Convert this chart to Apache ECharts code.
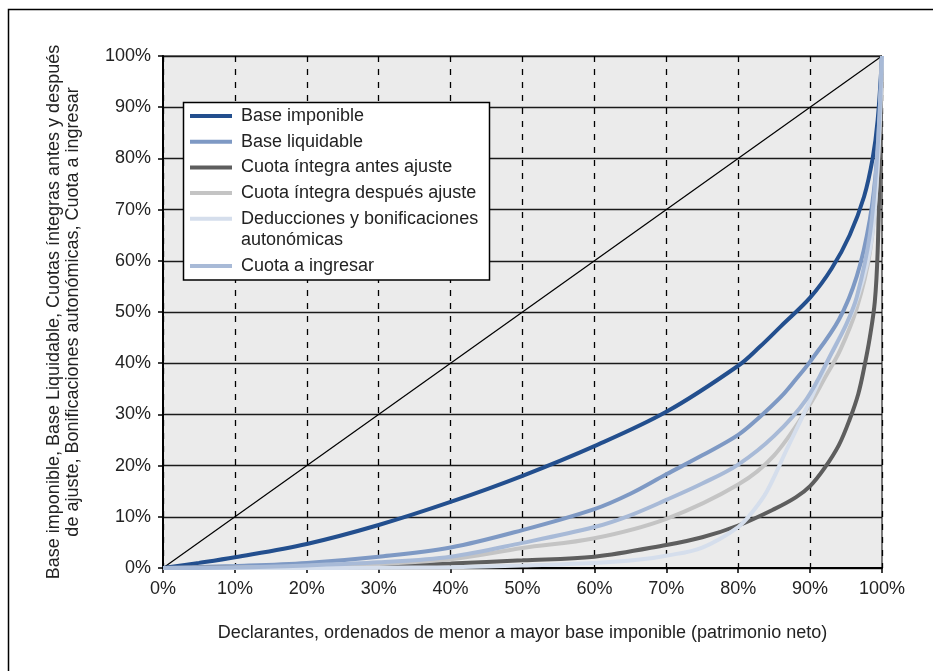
<!DOCTYPE html>
<html>
<head>
<meta charset="utf-8">
<script src="https://cdn.jsdelivr.net/npm/echarts@6/dist/echarts.min.js"></script>
<style>
  html, body { margin: 0; padding: 0; background: #fff; }
  #chart { width: 933px; height: 671px; }
</style>
</head>
<body>
<div id="chart"></div>
<script>
// ticks on both axes, percent
const tickValues = [0, 10, 20, 30, 40, 50, 60, 70, 80, 90, 100]

// [share of declarants %, cumulative share %]
const baseImponible = [[0, 0], [5, 1], [10, 2.1], [20, 4.7], [30, 8.4], [40, 12.9], [50, 18], [60, 23.8], [70, 30.5], [80, 39.5], [83, 43.2], [86, 47.3], [90, 52.8], [93, 58.5], [95.5, 65], [97.5, 72.5], [98.7, 80], [99.4, 87.5], [100, 100]]
const baseLiquidable = [[0, 0], [10, 0.4], [20, 1], [30, 2.2], [40, 4], [50, 7.4], [60, 11.5], [65, 14.5], [70, 18.3], [75, 22], [80, 26], [83, 29.5], [86, 33.5], [88, 36.8], [90, 40.3], [94, 48.5], [96.5, 57], [98.3, 68], [99.3, 80], [100, 100]]
const cuotaAntes = [[0, 0], [10, 0.05], [20, 0.15], [30, 0.4], [40, 0.9], [50, 1.5], [60, 2.2], [70, 4.5], [75, 6], [80, 8.3], [85, 11.5], [88, 13.8], [90, 16], [92, 19.5], [94, 24], [95.5, 29], [96.7, 34], [97.5, 39], [98.3, 45], [99, 52], [99.4, 62], [99.7, 80], [100, 100]]
const cuotaDespues = [[0, 0], [10, 0.1], [20, 0.3], [30, 0.8], [40, 1.7], [50, 3.9], [60, 5.8], [70, 9.6], [80, 16.3], [85, 22], [90, 32], [92, 37], [94.2, 42.6], [96.5, 50.8], [98.3, 61.5], [99.3, 76], [100, 100]]
const deducciones = [[0, 0], [20, 0], [30, 0.05], [40, 0.15], [50, 0.5], [60, 1], [66, 1.6], [70, 2.4], [75, 4], [80, 8], [82, 11], [84, 15], [86.7, 23], [89.6, 31.5], [91.4, 37], [93.2, 42.6], [96, 50.5], [98.3, 62], [99.3, 76], [100, 100]]
const cuotaIngresar = [[0, 0], [10, 0.1], [20, 0.5], [30, 1.1], [40, 2.2], [50, 4.9], [60, 8], [65, 10.3], [70, 13.3], [75, 16.5], [80, 20.2], [85, 25.8], [89.5, 33], [93, 42], [95, 47.5], [96.5, 53], [98.3, 65], [99.3, 80], [100, 100]]
const equality = [[0, 0], [100, 100]]

const names = [
  'Base imponible',
  'Base liquidable',
  'Cuota íntegra antes ajuste',
  'Cuota íntegra después ajuste',
  'Deducciones y bonificaciones autonómicas',
  'Cuota a ingresar'
]
const colors = ['#234f8e', '#7e99c4', '#5e5e5e', '#c4c4c4', '#d5deec', '#a8bad7']

const font = 'Liberation Sans, Arial, Helvetica, sans-serif'
const chart = echarts.init(document.getElementById('chart'))

function curve(name, data, color) {
  return {
    name: name,
    type: 'line',
    data: data,
    smooth: 0.35,
    showSymbol: false,
    color: color,
    lineStyle: { width: 4, color: color },
    silent: true
  }
}

const legendText = {
  fontFamily: font,
  fontSize: 18,
  color: '#222',
  lineHeight: 22,
  padding: [0, 0, 0, 4]
}

const option = {
  animation: false,
  grid: {
    left: 163,
    right: 51,
    top: 56,
    bottom: 103,
    show: true,
    backgroundColor: '#ebebeb',
    borderColor: '#000',
    borderWidth: 1
  },
  legend: [
    {
      orient: 'vertical',
      left: 190,
      top: 105,
      padding: 0,
      itemGap: 3.7,
      icon: 'rect',
      itemWidth: 42,
      itemHeight: 4,
      itemStyle: { borderWidth: 0 },
      selectedMode: false,
      data: names.slice(0, 5),
      formatter: function (n) {
        return n === names[4] ? 'Deducciones y bonificaciones' : n
      },
      textStyle: legendText
    },
    {
      orient: 'vertical',
      left: 190,
      top: 255,
      padding: 0,
      icon: 'rect',
      itemWidth: 42,
      itemHeight: 4,
      itemStyle: { borderWidth: 0 },
      selectedMode: false,
      data: [names[5]],
      textStyle: legendText
    }
  ],
  graphic: [
    {
      type: 'rect',
      z: 0,
      shape: { x: 8.5, y: 9.5, width: 960, height: 720 },
      style: { fill: 'none', stroke: '#000', lineWidth: 1.5 }
    },
    {
      type: 'rect',
      z: 3,
      shape: { x: 183.5, y: 102.5, width: 306, height: 177.5 },
      style: { fill: '#fff', stroke: '#000', lineWidth: 1.5 }
    },
    {
      type: 'text',
      z: 5,
      x: 241,
      y: 240,
      style: {
        text: 'autonómicas',
        fontFamily: font,
        fontSize: 18,
        fill: '#222',
        verticalAlign: 'middle'
      }
    }
  ],
  xAxis: {
    type: 'value',
    min: tickValues[0],
    max: tickValues[tickValues.length - 1],
    interval: 10,
    name: 'Declarantes, ordenados de menor a mayor base imponible (patrimonio neto)',
    nameLocation: 'middle',
    nameGap: 56,
    nameTextStyle: { fontFamily: font, fontSize: 18, color: '#222' },
    axisLine: { lineStyle: { color: '#000', width: 2 } },
    axisTick: { show: true, length: 5, lineStyle: { color: '#000', width: 1.5 } },
    axisLabel: { formatter: '{value}%', fontFamily: font, fontSize: 18, color: '#222', margin: 12 },
    splitLine: { show: true, lineStyle: { color: '#000', width: 1.3, type: [6, 7] } }
  },
  yAxis: {
    type: 'value',
    min: tickValues[0],
    max: tickValues[tickValues.length - 1],
    interval: 10,
    name: 'Base imponible, Base Liquidable, Cuotas íntegras antes y después\nde ajuste, Bonificaciones autonómicas, Cuota a ingresar',
    nameLocation: 'middle',
    nameGap: 80,
    nameTextStyle: { fontFamily: font, fontSize: 18, color: '#222', lineHeight: 19 },
    axisLine: { show: true, lineStyle: { color: '#000', width: 2 } },
    axisTick: { show: true, length: 5, lineStyle: { color: '#000', width: 1.5 } },
    axisLabel: { formatter: '{value}%', fontFamily: font, fontSize: 18, color: '#222', margin: 12 },
    splitLine: { show: true, lineStyle: { color: '#1a1a1a', width: 1.3 } }
  },
  series: [
    {
      type: 'line',
      data: equality,
      showSymbol: false,
      silent: true,
      lineStyle: { width: 1.2, color: '#000' },
      z: 1
    },
    curve(names[0], baseImponible, colors[0]),
    curve(names[1], baseLiquidable, colors[1]),
    curve(names[2], cuotaAntes, colors[2]),
    curve(names[3], cuotaDespues, colors[3]),
    curve(names[4], deducciones, colors[4]),
    curve(names[5], cuotaIngresar, colors[5])
  ]
}

chart.setOption(option)
</script>
</body>
</html>
